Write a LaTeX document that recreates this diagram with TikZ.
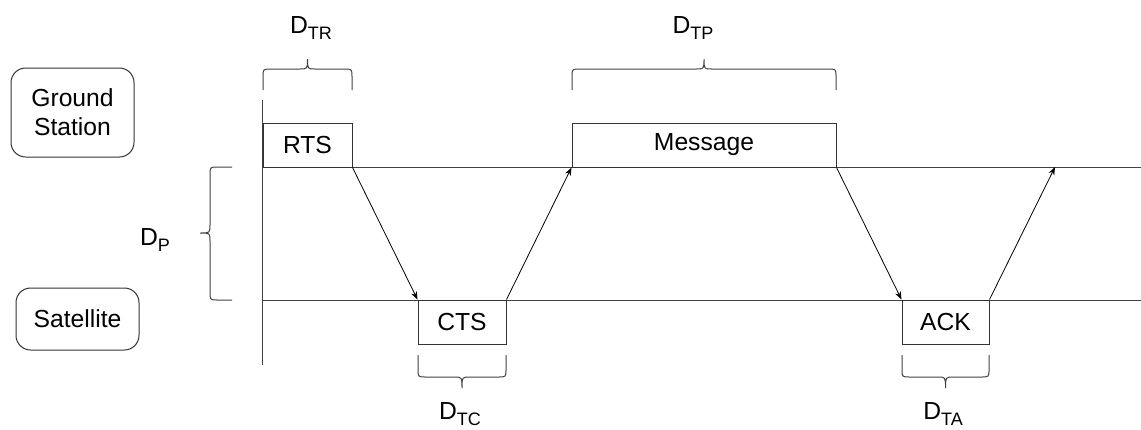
\documentclass[tikz,border=0pt]{standalone}
\usepackage{fontspec}
\setmainfont{Liberation Sans}
\usetikzlibrary{arrows.meta}

% delay label: D with a lowered, smaller subscript
\newcommand{\dlab}[1]{D\raisebox{-0.5ex}{\fontsize{13.5}{14}\selectfont #1}}
% curly bracket: xL, xR, y of ends, y where corners start, y of bar, y of tip
\newcommand{\hcurly}[6]{%
  \draw[bracket] (#1,#3) -- (#1,#4) .. controls (#1,#5) .. ({#1+8},#5)
    -- ({(#1+#2)/2-8},#5) .. controls ({(#1+#2)/2},#5) .. ({(#1+#2)/2},#6)
    .. controls ({(#1+#2)/2},#5) .. ({(#1+#2)/2+8},#5)
    -- ({#2-8},#5) .. controls (#2,#5) .. (#2,#4) -- (#2,#3);}

\begin{document}
\begin{tikzpicture}[x=0.75pt,y=-0.75pt,
  font=\fontsize{18.5}{21.5}\selectfont,
  frame/.style={draw=black!80,line width=0.75pt,inner sep=0pt,align=center},
  party/.style={frame,rounded corners=11pt,minimum width=92.25pt},
  packet/.style={frame,minimum height=33pt},
  timeline/.style={draw=black!75,line width=0.75pt},
  signal/.style={draw=black,line width=0.6pt,-{Stealth[length=6pt,width=4.5pt]}},
  bracket/.style={draw=black!75,line width=0.75pt},
  delay/.style={inner sep=0pt}]
\useasboundingbox (0,0) rectangle (1141,429);

% parties
\node[party,minimum height=66.75pt] (gs) at (72.5,112.5) {Ground\\Station};
\node[party,minimum height=46.5pt] (sat) at (77.5,319) {Satellite};

% time axis and timelines
\coordinate (axtop) at (262,100);
\coordinate (axbot) at (262,365);
\coordinate (gsL) at (262,167);
\coordinate (gsR) at (1141,167);
\coordinate (satL) at (262,300);
\coordinate (satR) at (1141,300);
\draw[timeline] (axtop) -- (axbot);
\draw[timeline] (gsL) -- (gsR);
\draw[timeline] (satL) -- (satR);

% frames on the timelines
\node[packet,minimum width=66.75pt] (rts) at (307.5,145) {RTS};
\node[packet,minimum width=198pt] (msg) at (704,145) {Message};
\node[packet,minimum width=66pt] (cts) at (462,322) {CTS};
\node[packet,minimum width=65.25pt] (ack) at (945.5,322) {ACK};
\coordinate (ackend) at (1055,167);

% propagation
\draw[signal] (rts.south east) -- (cts.north west);
\draw[signal] (cts.north east) -- (msg.south west);
\draw[signal] (msg.south east) -- (ack.north west);
\draw[signal] (ack.north east) -- (ackend);

% transmission delays
\hcurly{263}{352}{90}{77}{69}{59}
\hcurly{572}{836}{90}{77}{69}{59}
\hcurly{418}{506}{355}{369}{377}{388}
\hcurly{902}{989}{355}{369}{377}{388}
\node[delay] (dtr) at (311,28) {\dlab{TR}};
\node[delay] (dtp) at (693,28) {\dlab{TP}};
\node[delay] (dtc) at (460,414) {\dlab{TC}};
\node[delay] (dta) at (943,414) {\dlab{TA}};

% propagation delay
\draw[bracket] (232,167) -- (218,167) .. controls (210,167) .. (210,175)
  -- (210,225) .. controls (210,233) .. (200,233)
  .. controls (210,233) .. (210,241) -- (210,292)
  .. controls (210,300) .. (218,300) -- (232,300);
\node[delay] (dp) at (155,240) {\dlab{P}};
\end{tikzpicture}
\end{document}
